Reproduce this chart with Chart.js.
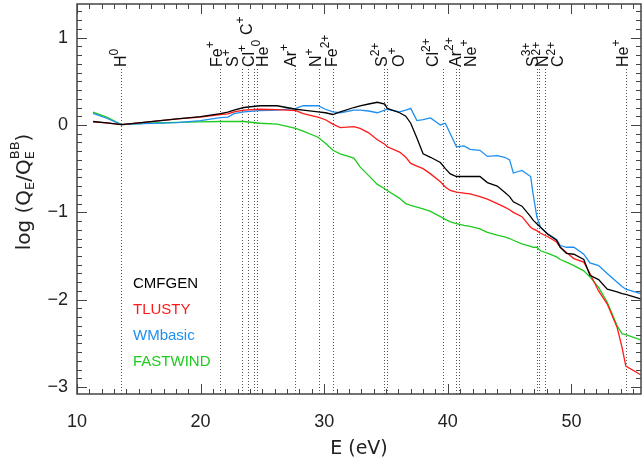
<!DOCTYPE html>
<html><head><meta charset="utf-8">
<script src="https://cdn.jsdelivr.net/npm/chart.js@4.4.1/dist/chart.umd.min.js"></script>
<style>html,body{margin:0;padding:0;background:#fff;}#wrap{width:643px;height:464px;position:relative;}</style>
</head><body><div id="wrap"><canvas id="c" width="643" height="464"></canvas></div>
<script>
// ---- data ----
const energies = [11.3, 12.4, 13.6, 15.4, 18.1, 20.0, 21.6, 22.2, 22.7, 23.5, 24.8, 26.2, 27.7, 28.3, 29.5, 30.1, 30.7, 31.3, 32.4, 32.9, 33.6, 34.3, 34.9, 35.1, 36.1, 36.6, 37.0, 37.5, 38.0, 38.6, 39.4, 39.8, 40.2, 40.7, 41.3, 41.8, 42.6, 43.2, 44.0, 44.6, 45.0, 45.3, 46.0, 46.7, 46.9, 47.2, 47.5, 48.1, 48.8, 49.1, 49.6, 50.2, 51.0, 51.5, 52.2, 52.9, 53.7, 54.1, 54.4, 55.6];
const cmfgen = [0.04, 0.023, 0.005, 0.03, 0.07, 0.096, 0.13, 0.146, 0.17, 0.2, 0.22, 0.22, 0.18, 0.17, 0.15, 0.14, 0.12, 0.15, 0.20, 0.22, 0.24, 0.26, 0.24, 0.19, 0.14, 0.10, 0.02, -0.15, -0.33, -0.37, -0.43, -0.50, -0.56, -0.59, -0.59, -0.59, -0.59, -0.66, -0.70, -0.77, -0.82, -0.88, -0.93, -1.05, -1.09, -1.13, -1.17, -1.25, -1.32, -1.40, -1.47, -1.48, -1.54, -1.72, -1.77, -1.88, -1.91, -1.93, -1.94, -1.99];
const tlusty = [0.035, 0.023, 0.005, 0.03, 0.07, 0.09, 0.12, 0.126, 0.15, 0.17, 0.18, 0.175, 0.165, 0.13, 0.09, 0.06, 0.01, -0.03, -0.02, -0.04, -0.09, -0.17, -0.22, -0.25, -0.31, -0.37, -0.44, -0.47, -0.50, -0.56, -0.65, -0.71, -0.75, -0.77, -0.78, -0.79, -0.82, -0.85, -0.90, -0.94, -0.97, -1.00, -1.05, -1.17, -1.19, -1.21, -1.24, -1.28, -1.34, -1.40, -1.46, -1.53, -1.57, -1.70, -1.90, -2.05, -2.32, -2.55, -2.76, -2.86];
const wmbasic = [0.134, 0.077, 0.005, 0.015, 0.027, 0.05, 0.084, 0.09, 0.13, 0.15, 0.165, 0.17, 0.19, 0.22, 0.22, 0.18, 0.15, 0.14, 0.17, 0.17, 0.16, 0.14, 0.17, 0.18, 0.15, 0.17, 0.19, 0.05, 0.06, 0.08, 0.0, 0.02, -0.10, -0.25, -0.24, -0.28, -0.29, -0.36, -0.35, -0.37, -0.40, -0.55, -0.52, -0.59, -0.79, -1.05, -1.17, -1.25, -1.31, -1.38, -1.40, -1.40, -1.48, -1.58, -1.61, -1.70, -1.80, -1.85, -1.88, -1.93];
const fastwind = [0.146, 0.09, 0.005, 0.02, 0.03, 0.035, 0.04, 0.04, 0.04, 0.04, 0.02, 0.01, -0.04, -0.07, -0.14, -0.21, -0.29, -0.33, -0.38, -0.48, -0.58, -0.68, -0.73, -0.75, -0.84, -0.90, -0.92, -0.94, -0.96, -0.99, -1.05, -1.08, -1.11, -1.13, -1.15, -1.16, -1.19, -1.23, -1.26, -1.28, -1.30, -1.32, -1.36, -1.39, -1.40, -1.40, -1.44, -1.47, -1.51, -1.54, -1.57, -1.61, -1.67, -1.74, -1.86, -2.03, -2.30, -2.39, -2.40, -2.46];
const seriesNames = ['CMFGEN', 'TLUSTY', 'WMbasic', 'FASTWIND'];
const ionSymbols = ['H', 'Fe', 'S', 'Cl', 'C', 'He', 'Ar', 'N', 'Fe', 'S', 'O', 'Cl', 'Ar', 'Ne', 'S', 'N', 'C', 'He'];
const ionCharges = ['0', '+', '+', '+', '+', '0', '+', '+', '2+', '2+', '+', '2+', '2+', '+', '3+', '2+', '2+', '+'];
const ionEnergies = [13.6, 21.6, 23.35, 23.8, 24.35, 24.6, 27.65, 29.6, 30.7, 34.8, 35.1, 39.6, 40.7, 40.9, 47.2, 47.4, 47.85, 54.4];
const xTickValues = [10, 20, 30, 40, 50];
const yTickValues = [-3, -2, -1, 0, 1];

// ---- styles ----
const colors = ['#000000', '#ff1a1a', '#1e8ff0', '#1ecb1e'];
const FONT = "'Liberation Sans', Arial, sans-serif";
const TITLEFONT = "'DejaVu Sans', sans-serif";
const labelDx = [5, 2, -4, 6, -2, 11, 1, 2, 4, 3, 17, -5, 5, 17, 1, 9, 18, 2];
const labelBottom = [67, 67, 67, 67, 35, 67, 67, 67, 67, 67, 67, 67, 67, 67, 67, 67, 67, 67];
const legendY = [284, 310, 336, 362];

const seriesValues = [cmfgen, tlusty, wmbasic, fastwind];
const datasets = seriesValues.map((vals, i) => ({
  label: seriesNames[i],
  data: energies.map((e, k) => ({x: e, y: vals[k]})),
  borderColor: colors[i],
  borderWidth: 1.3,
  pointRadius: 0,
  fill: false,
  tension: 0
}));

function drawParts(ctx, parts, fam) {
  let cx = 0;
  for (const p of parts) {
    ctx.font = p.size + 'px ' + (fam || FONT);
    ctx.fillText(p.t, cx, p.dy || 0);
    const w = ctx.measureText(p.t).width;
    if (!p.noAdvance) cx += w;
  }
  return cx;
}
function partsWidth(ctx, parts, fam) {
  let w = 0;
  for (const p of parts) { ctx.font = p.size + 'px ' + (fam || FONT); if (!p.noAdvance) w += ctx.measureText(p.t).width; }
  return w;
}

const overlay = {
  id: 'overlay',
  beforeDatasetsDraw(chart) {
    const ctx = chart.ctx, xs = chart.scales.x, a = chart.chartArea;
    ctx.save();
    ctx.strokeStyle = '#555';
    ctx.lineWidth = 1;
    ctx.setLineDash([1, 2]);
    ionEnergies.forEach((e) => {
      const px = Math.round(xs.getPixelForValue(e)) + 0.5;
      ctx.beginPath();
      ctx.moveTo(px, 69);
      ctx.lineTo(px, a.bottom);
      ctx.stroke();
    });
    ctx.restore();
  },
  afterDraw(chart) {
    const ctx = chart.ctx, xs = chart.scales.x, ys = chart.scales.y, a = chart.chartArea;
    ctx.save();
    // frame
    ctx.strokeStyle = '#444';
    ctx.lineWidth = 1.5;
    ctx.strokeRect(a.left, a.top, a.right - a.left, a.bottom - a.top);
    // ticks
    ctx.lineWidth = 1;
    ctx.beginPath();
    for (let v = 10; v <= xs.max + 1e-6; v += 1) {
      const px = Math.round(xs.getPixelForValue(v)) + 0.5;
      const L = (Math.abs(v % 10) < 1e-6) ? 10 : 5;
      ctx.moveTo(px, a.bottom); ctx.lineTo(px, a.bottom - L);
      ctx.moveTo(px, a.top); ctx.lineTo(px, a.top + L);
    }
    for (let k = -30; k <= 13; k++) {
      const v = k / 10;
      const py = Math.round(ys.getPixelForValue(v)) + 0.5;
      const L = (k % 10 === 0) ? 10 : 5;
      ctx.moveTo(a.left, py); ctx.lineTo(a.left + L, py);
      ctx.moveTo(a.right, py); ctx.lineTo(a.right - L, py);
    }
    ctx.stroke();

    // ion labels (rotated)
    ctx.fillStyle = '#111';
    ctx.textBaseline = 'alphabetic';
    ctx.textAlign = 'left';
    ionEnergies.forEach((e, i) => {
      const px = xs.getPixelForValue(e) + labelDx[i];
      ctx.save();
      ctx.translate(px, labelBottom[i]);
      ctx.rotate(-Math.PI / 2);
      drawParts(ctx, [{t: ionSymbols[i], size: 16}, {t: ionCharges[i], size: 12, dy: -8}]);
      ctx.restore();
    });

    // y-axis title
    ctx.save();
    ctx.fillStyle = '#222';
    ctx.translate(30, 192);
    ctx.rotate(-Math.PI / 2);
    const tparts = [
      {t: 'log (Q', size: 20}, {t: 'E', size: 13, dy: 4}, {t: '/Q', size: 20},
      {t: 'E', size: 13, dy: 4, noAdvance: true}, {t: 'BB', size: 13, dy: -11}, {t: ')', size: 20}
    ];
    const tw = partsWidth(ctx, tparts, TITLEFONT);
    ctx.translate(-tw / 2, 0);
    drawParts(ctx, tparts, TITLEFONT);
    ctx.restore();

    // x-axis title
    ctx.fillStyle = '#222';
    ctx.font = '19px ' + TITLEFONT;
    ctx.textAlign = 'center';
    ctx.fillText('E (eV)', (a.left + a.right) / 2, 454);

    // legend text
    ctx.textAlign = 'left';
    ctx.textBaseline = 'middle';
    ctx.font = '15px ' + FONT;
    seriesNames.forEach((n, i) => {
      ctx.fillStyle = colors[i];
      ctx.fillText(n, 133, legendY[i]);
    });
    ctx.restore();
  }
};

new Chart(document.getElementById('c'), {
  type: 'line',
  data: {datasets},
  options: {
    responsive: false,
    animation: false,
    events: [],
    layout: {padding: {top: 4, right: 2, left: 0, bottom: 0}},
    plugins: {legend: {display: false}, tooltip: {enabled: false}},
    scales: {
      x: {
        type: 'linear', min: 10, max: 55.63,
        afterBuildTicks: (s) => { s.ticks = xTickValues.map(v => ({value: v})); },
        afterFit: (s) => { s.height = 70; s.paddingLeft = 0; s.paddingRight = 0; s.paddingTop = 0; s.paddingBottom = 0; },
        grid: {display: false, drawTicks: false},
        border: {display: false},
        ticks: {autoSkip: false, maxRotation: 0, padding: 17, color: '#222', font: {family: FONT, size: 18}}
      },
      y: {
        type: 'linear', min: -3.08, max: 1.385,
        afterBuildTicks: (s) => { s.ticks = yTickValues.map(v => ({value: v})); },
        afterFit: (s) => { s.width = 77; s.paddingTop = 0; s.paddingBottom = 0; s.paddingLeft = 0; s.paddingRight = 0; },
        grid: {display: false, drawTicks: false},
        border: {display: false},
        ticks: {autoSkip: false, padding: 9, color: '#222', font: {family: FONT, size: 18},
          callback: (v) => (v < 0 ? '\u2212' + Math.abs(v) : String(v))}
      }
    }
  },
  plugins: [overlay]
});
</script>
</body></html>
